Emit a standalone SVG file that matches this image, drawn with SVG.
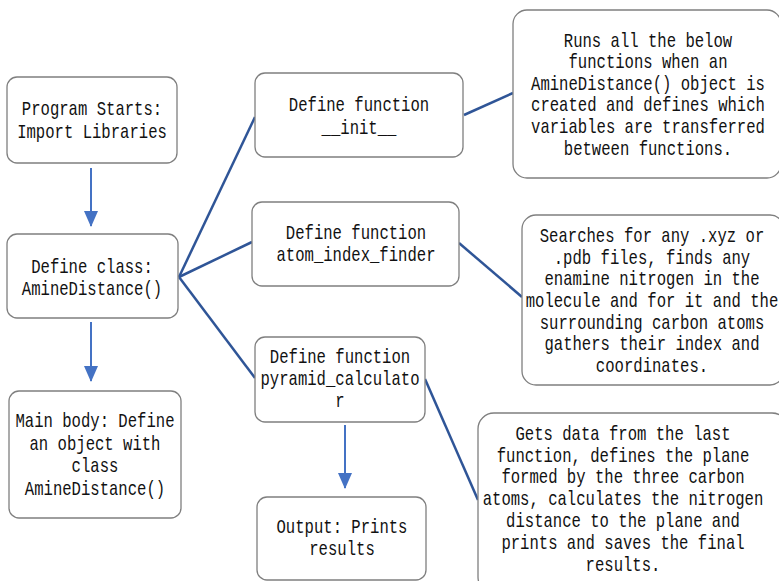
<svg xmlns="http://www.w3.org/2000/svg" width="779" height="581" viewBox="0 0 779 581">
<style>
.box{fill:#fff;stroke:#7f7f7f;stroke-width:1.3}
.t{font-family:"Liberation Mono","DejaVu Sans Mono",monospace;font-size:20px;fill:#111;text-anchor:middle}
.c{stroke:#2f5597;stroke-width:2.5;fill:none}
.a{stroke:#4472c4;stroke-width:2;fill:none}
</style>
<defs>
<marker id="ah" markerWidth="8" markerHeight="7" refX="7.5" refY="3.5" orient="auto" markerUnits="strokeWidth">
<path d="M0,0 L8,3.5 L0,7 z" fill="#4472c4"/>
</marker>
</defs>
<rect width="779" height="581" fill="#fff"/>
<g id="connectors">
<line class="c" x1="179" y1="277" x2="255" y2="117"/>
<line class="c" x1="179" y1="277" x2="252" y2="242"/>
<line class="c" x1="179" y1="277" x2="255" y2="378"/>
<line class="c" x1="464" y1="115" x2="513" y2="93"/>
<line class="c" x1="459" y1="243" x2="522" y2="297"/>
<line class="c" x1="425" y1="379" x2="478" y2="500"/>
<line class="a" x1="91" y1="168" x2="91" y2="226" marker-end="url(#ah)"/>
<line class="a" x1="91" y1="322" x2="91" y2="381" marker-end="url(#ah)"/>
<line class="a" x1="345" y1="425" x2="345" y2="488" marker-end="url(#ah)"/>
</g>
<g id="n1"><rect class="box" x="7" y="77" width="170" height="86" rx="10"/>
<g transform="scale(0.78,1)"><text class="t" x="117.95" y="115">Program Starts:</text><text class="t" x="117.95" y="138">Import Libraries</text></g></g>
<g id="n2"><rect class="box" x="7" y="234" width="171" height="84" rx="10"/>
<g transform="scale(0.78,1)"><text class="t" x="117.95" y="273">Define class:</text><text class="t" x="117.95" y="295">AmineDistance()</text></g></g>
<g id="n3"><rect class="box" x="9" y="391" width="172" height="127" rx="10"/>
<g transform="scale(0.78,1)"><text class="t" x="121.79" y="427">Main body: Define</text><text class="t" x="121.79" y="450">an object with</text><text class="t" x="121.79" y="472">class</text><text class="t" x="121.79" y="495">AmineDistance()</text></g></g>
<g id="n4"><rect class="box" x="255" y="73" width="208" height="84" rx="10"/>
<g transform="scale(0.78,1)"><text class="t" x="460.26" y="111">Define function</text><text class="t" x="460.26" y="134">__init__</text></g></g>
<g id="n5"><rect class="box" x="513" y="10" width="268" height="168" rx="14"/>
<g transform="scale(0.78,1)"><text class="t" x="830.77" y="47">Runs all the below</text><text class="t" x="830.77" y="68">functions when an</text><text class="t" x="830.77" y="90">AmineDistance() object is</text><text class="t" x="830.77" y="111">created and defines which</text><text class="t" x="830.77" y="133">variables are transferred</text><text class="t" x="830.77" y="155">between functions.</text></g></g>
<g id="n6"><rect class="box" x="252" y="202" width="207" height="84" rx="10"/>
<g transform="scale(0.78,1)"><text class="t" x="456.41" y="239">Define function</text><text class="t" x="456.41" y="261">atom_index_finder</text></g></g>
<g id="n7"><rect class="box" x="255" y="337" width="170" height="85" rx="10"/>
<g transform="scale(0.78,1)"><text class="t" x="435.90" y="363">Define function</text><text class="t" x="435.90" y="385">pyramid_calculato</text><text class="t" x="435.90" y="407">r</text></g></g>
<g id="n8"><rect class="box" x="522" y="215" width="262" height="170" rx="14"/>
<g transform="scale(0.78,1)"><text class="t" x="835.90" y="242">Searches for any .xyz or</text><text class="t" x="835.90" y="264">.pdb files, finds any</text><text class="t" x="835.90" y="285">enamine nitrogen in the</text><text class="t" x="835.90" y="307">molecule and for it and the</text><text class="t" x="835.90" y="329">surrounding carbon atoms</text><text class="t" x="835.90" y="350">gathers their index and</text><text class="t" x="835.90" y="372">coordinates.</text></g></g>
<g id="n9"><rect class="box" x="478" y="413" width="310" height="180" rx="16"/>
<g transform="scale(0.78,1)"><text class="t" x="798.72" y="440">Gets data from the last</text><text class="t" x="798.72" y="462">function, defines the plane</text><text class="t" x="798.72" y="483">formed by the three carbon</text><text class="t" x="798.72" y="505">atoms, calculates the nitrogen</text><text class="t" x="798.72" y="527">distance to the plane and</text><text class="t" x="798.72" y="549">prints and saves the final</text><text class="t" x="798.72" y="571">results.</text></g></g>
<g id="n10"><rect class="box" x="257" y="497" width="169" height="83" rx="10"/>
<g transform="scale(0.78,1)"><text class="t" x="438.46" y="533">Output: Prints</text><text class="t" x="438.46" y="555">results</text></g></g>
</svg>
